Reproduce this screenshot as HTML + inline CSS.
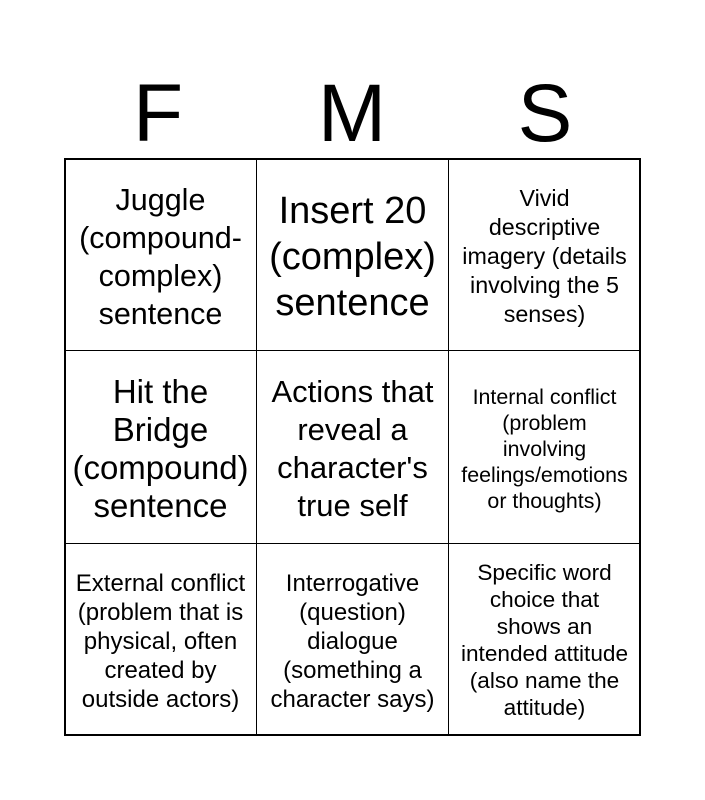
<!DOCTYPE html>
<html><head><meta charset="utf-8"><style>
body{margin:0;width:705px;height:800px;background:#fff;font-family:"Liberation Sans",Arial,sans-serif;position:relative;overflow:hidden}
.h{position:absolute;top:64px;font-size:82px;line-height:100px;width:192px;text-align:center;color:#000}
.grid{position:absolute;left:64px;top:158px;width:577px;height:578px;border:2px solid #000;box-sizing:border-box}
.c{position:absolute;display:flex;align-items:center;justify-content:center;text-align:center;box-sizing:border-box;border:1px solid #000;color:#000;padding:4px 0 0 0;white-space:nowrap}
</style></head><body>
<div class="h" style="left:62px">F</div>
<div class="h" style="left:256px">M</div>
<div class="h" style="left:449px">S</div>
<div class="grid"></div>
<div class="c" style="left:64px;top:158px;width:193px;height:193px;font-size:30.5px;line-height:38px">Juggle<br>(compound-<br>complex)<br>sentence</div>
<div class="c" style="left:256px;top:158px;width:193px;height:193px;font-size:38px;line-height:46px">Insert 20<br>(complex)<br>sentence</div>
<div class="c" style="left:448px;top:158px;width:193px;height:193px;font-size:23.3px;line-height:29px">Vivid<br>descriptive<br>imagery (details<br>involving the 5<br>senses)</div>
<div class="c" style="left:64px;top:350px;width:193px;height:194px;font-size:33px;line-height:38px">Hit the<br>Bridge<br>(compound)<br>sentence</div>
<div class="c" style="left:256px;top:350px;width:193px;height:194px;font-size:31px;line-height:38px">Actions that<br>reveal a<br>character's<br>true self</div>
<div class="c" style="left:448px;top:350px;width:193px;height:194px;font-size:21.4px;line-height:26px">Internal conflict<br>(problem<br>involving<br>feelings/emotions<br>or thoughts)</div>
<div class="c" style="left:64px;top:543px;width:193px;height:193px;font-size:24px;line-height:29px">External conflict<br>(problem that is<br>physical, often<br>created by<br>outside actors)</div>
<div class="c" style="left:256px;top:543px;width:193px;height:193px;font-size:24px;line-height:29px">Interrogative<br>(question)<br>dialogue<br>(something a<br>character says)</div>
<div class="c" style="left:448px;top:543px;width:193px;height:193px;font-size:22.6px;line-height:27px;padding-top:0">Specific word<br>choice that<br>shows an<br>intended attitude<br>(also name the<br>attitude)</div>
</body></html>
